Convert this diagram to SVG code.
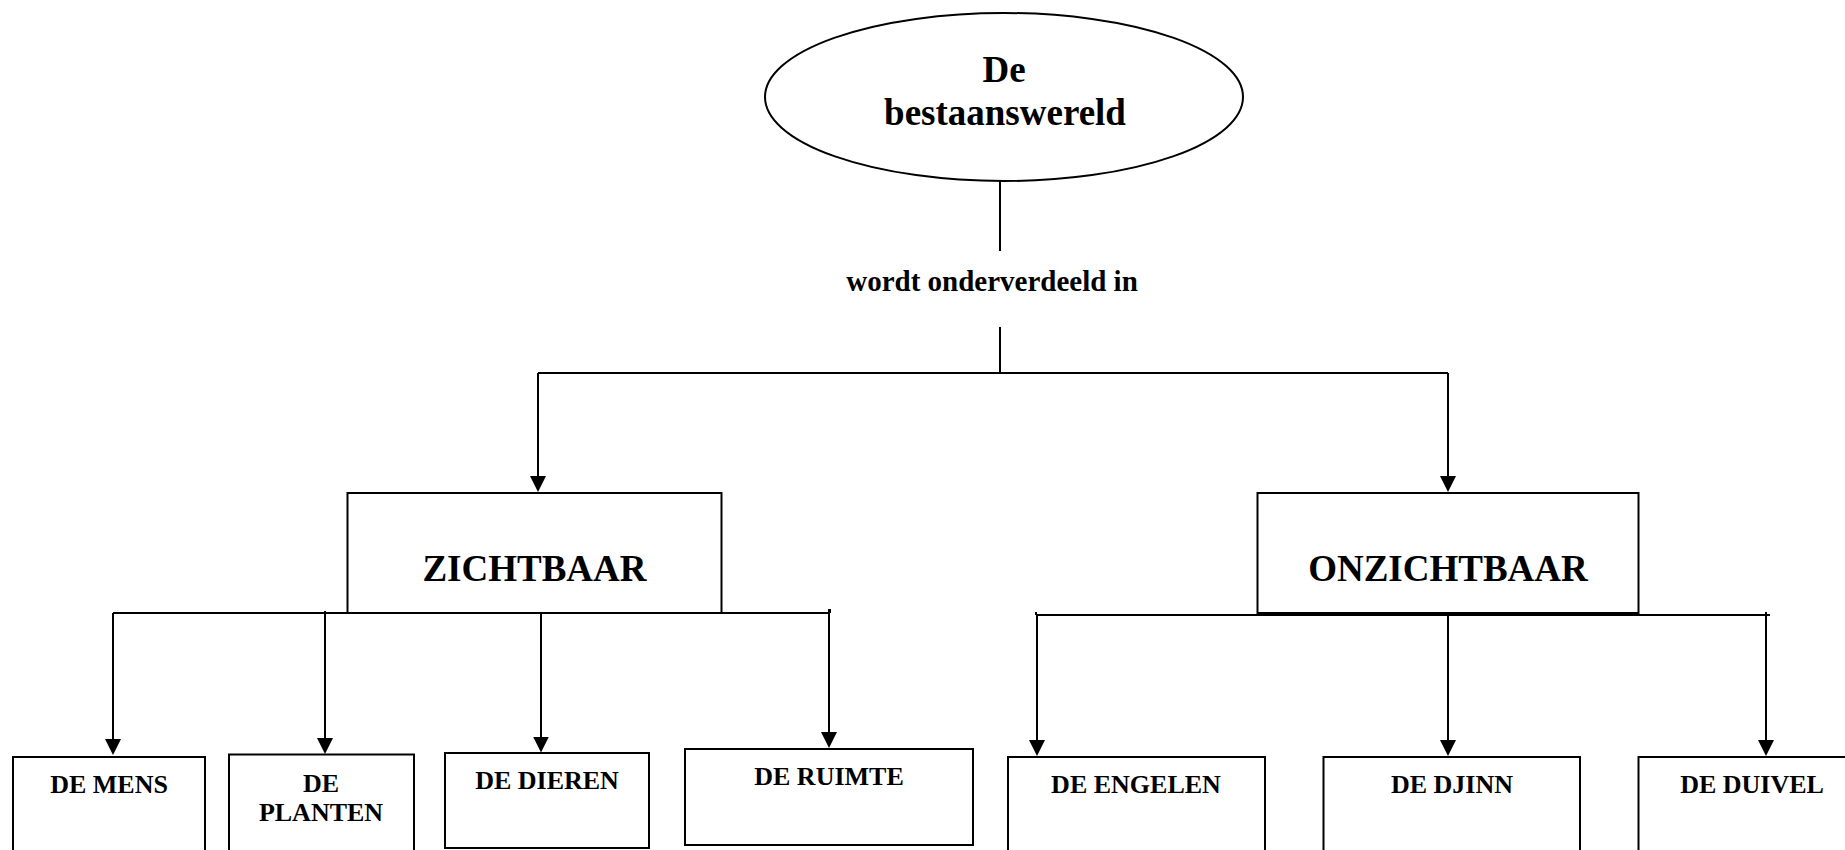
<svg xmlns="http://www.w3.org/2000/svg" width="1845" height="850" viewBox="0 0 1845 850">
<style>
.box{fill:#fff;stroke:#000;stroke-width:2}
.ln{fill:none;stroke:#000;stroke-width:2}
.t{font-family:"Liberation Serif","Times New Roman",serif;font-weight:bold;fill:#000;text-anchor:middle}
.big{font-size:37px}
.mid{font-size:37px}
.sm{font-size:26px}
.lbl{font-size:29px}
</style>
<defs>
<marker id="arr" markerUnits="userSpaceOnUse" markerWidth="16" markerHeight="16" refX="3" refY="8" orient="auto" viewBox="0 0 16 16">
<path d="M0,0 L16,8 L0,16 z" fill="#000"/>
</marker>
</defs>
<rect width="1845" height="850" fill="#fff"/>
<g id="connectors">
<path class="ln" d="M1000,181 V251"/>
<path class="ln" d="M1000,327 V373"/>
<path class="ln" d="M538,373 H1448"/>
<path class="ln" d="M538,373 V479" marker-end="url(#arr)"/>
<path class="ln" d="M1448,373 V479" marker-end="url(#arr)"/>
<path class="ln" d="M113,613 H830"/>
<path class="ln" d="M830,609 V613"/>
<path class="ln" d="M113,613 V742" marker-end="url(#arr)"/>
<path class="ln" d="M325,611 V741" marker-end="url(#arr)"/>
<path class="ln" d="M541,613 V739.5" marker-end="url(#arr)"/>
<path class="ln" d="M829,609 V735" marker-end="url(#arr)"/>
<path class="ln" d="M1036,615 H1770"/>
<path class="ln" d="M1036,612 V615"/>
<path class="ln" d="M1037,614 V743" marker-end="url(#arr)"/>
<path class="ln" d="M1448,613 V743" marker-end="url(#arr)"/>
<path class="ln" d="M1766,612 V743" marker-end="url(#arr)"/>
</g>
<g id="node-root">
<ellipse class="box" cx="1004" cy="97" rx="239" ry="84"/>
<text class="t big" x="1004" y="82">De</text>
<text class="t big" x="1005" y="125">bestaanswereld</text>
</g>
<g id="label-onderverdeeld">
<text class="t lbl" x="992" y="291">wordt onderverdeeld in</text>
</g>
<g id="node-zichtbaar">
<rect class="box" x="347.5" y="493" width="374" height="120"/>
<text class="t mid" x="534.5" y="581">ZICHTBAAR</text>
</g>
<g id="node-onzichtbaar">
<rect class="box" x="1257.5" y="493" width="381" height="120"/>
<text class="t mid" x="1448" y="581">ONZICHTBAAR</text>
</g>
<g id="node-mens">
<rect class="box" x="13" y="757" width="192" height="110"/>
<text class="t sm" x="109" y="793">DE MENS</text>
</g>
<g id="node-planten">
<rect class="box" x="229" y="754.5" width="185" height="110"/>
<text class="t sm" x="321" y="792">DE</text>
<text class="t sm" x="321" y="821">PLANTEN</text>
</g>
<g id="node-dieren">
<rect class="box" x="445" y="753" width="204" height="95"/>
<text class="t sm" x="547" y="789">DE DIEREN</text>
</g>
<g id="node-ruimte">
<rect class="box" x="685" y="749" width="288" height="96"/>
<text class="t sm" x="829" y="785">DE RUIMTE</text>
</g>
<g id="node-engelen">
<rect class="box" x="1008" y="757" width="257" height="110"/>
<text class="t sm" x="1136" y="793">DE ENGELEN</text>
</g>
<g id="node-djinn">
<rect class="box" x="1323.5" y="757" width="256.5" height="110"/>
<text class="t sm" x="1452" y="793">DE DJINN</text>
</g>
<g id="node-duivel">
<rect class="box" x="1638.5" y="757" width="228" height="110"/>
<text class="t sm" x="1752" y="793">DE DUIVEL</text>
</g>
</svg>
